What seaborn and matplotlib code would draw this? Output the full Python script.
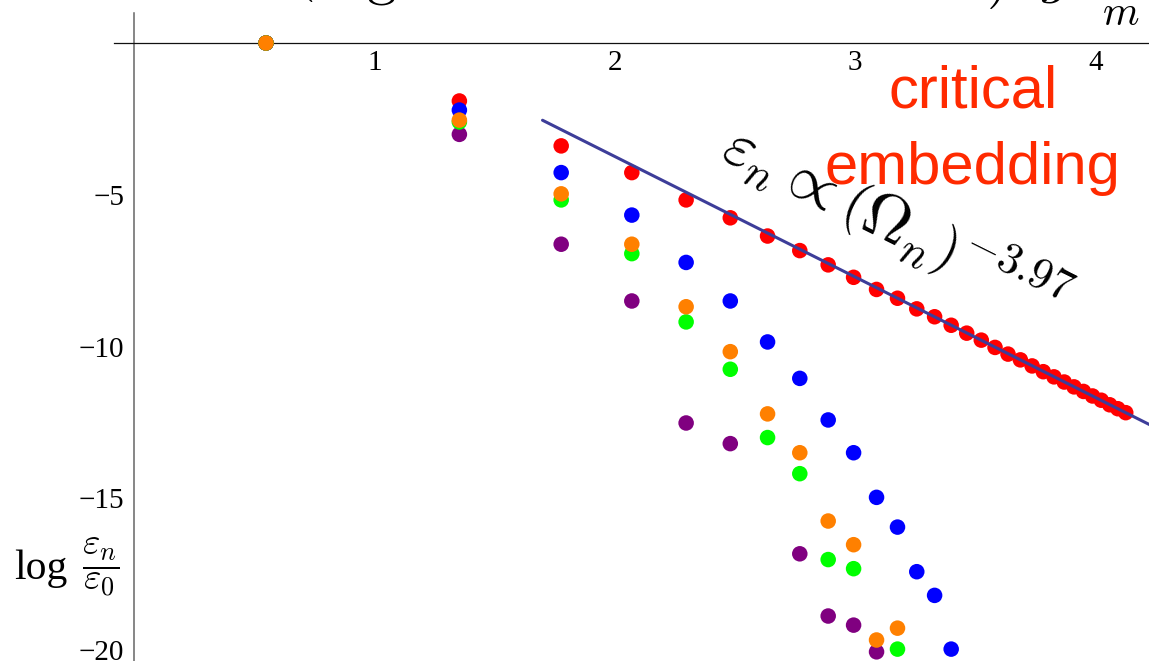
import matplotlib
matplotlib.use("Agg")
import matplotlib.pyplot as plt
import numpy as np
import pandas as pd
import seaborn as sns
from matplotlib.ticker import FixedLocator

# log of the mode frequencies Omega_m (m = 1 .. 31)
log_omega = [0.5493, 1.3540, 1.7777, 2.0716, 2.2976, 2.4814, 2.6365, 2.7706,
             2.8888, 2.9945, 3.0900, 3.1772, 3.2574, 3.3316, 3.4006, 3.4652,
             3.5259, 3.5831, 3.6372, 3.6886, 3.7374, 3.7839, 3.8284, 3.8710,
             3.9118, 3.9511, 3.9888, 4.0252, 4.0603, 4.0942, 4.1270]

# log(eps_n / eps_0) for each embedding
log_eps_critical = [0.0, -1.91, -3.39, -4.27, -5.17, -5.76, -6.36, -6.84,
                    -7.31, -7.72, -8.12, -8.41, -8.76, -9.02, -9.30, -9.56,
                    -9.79, -10.03, -10.25, -10.44, -10.64, -10.83, -11.00,
                    -11.17, -11.33, -11.48, -11.63, -11.77, -11.92, -12.05,
                    -12.18]
log_eps_blue = [0.0, -2.21, -4.27, -5.67, -7.23, -8.50, -9.85, -11.05,
                -12.42, -13.50, -14.97, -15.95, -17.42, -18.20, -19.97]
log_eps_orange = [0.0, -2.54, -4.97, -6.63, -8.69, -10.17, -12.22, -13.50,
                  -15.75, -16.53, -19.67, -19.28]
log_eps_green = [0.0, -2.60, -5.17, -6.94, -9.19, -10.75, -13.00, -14.19,
                 -17.02, -17.32, None, -19.97]
log_eps_purple = [0.0, -3.01, -6.63, -8.50, -12.52, -13.20, None, -16.83,
                  -18.88, -19.18, -20.06]

# power-law fit of the critical embedding: log eps = a + slope * log Omega
fit_slope = -3.97
fit_intercept = 4.204
fit_x = [1.70, 4.40]

x_major = [1, 2, 3, 4]
y_major = [-20, -15, -10, -5]

series = [("purple", log_eps_purple, "#800080"),
          ("critical", log_eps_critical, "#ff0000"),
          ("blue", log_eps_blue, "#0000ff"),
          ("green", log_eps_green, "#00ff00"),
          ("orange", log_eps_orange, "#ff8000")]

rows = []
for name, vals, _ in series:
    for xv, yv in zip(log_omega, vals):
        if yv is not None:
            rows.append({"log_omega": xv, "log_eps": yv, "embedding": name})
df = pd.DataFrame(rows)
palette = {name: col for name, _, col in series}

fit_df = pd.DataFrame({"x": fit_x,
                       "y": [fit_intercept + fit_slope * v for v in fit_x]})

sns.set_style("white")
plt.rcParams["font.family"] = ["Liberation Serif", "DejaVu Serif"]
plt.rcParams["mathtext.fontset"] = "cm"

W, H = 1149, 661
fig = plt.figure(figsize=(W / 100, H / 100), dpi=100)
ax = fig.add_axes([0, 0, 1, 1])

sns.scatterplot(data=df, x="log_omega", y="log_eps", hue="embedding",
                palette=palette, s=125, linewidth=0, legend=False, ax=ax,
                zorder=3)
sns.lineplot(data=fit_df, x="x", y="y", color="#3d3d99", linewidth=2.2,
             ax=ax, zorder=4)

ax.set_xlim(-0.5576, 4.2238)
ax.set_ylim(-20.362, 1.4168)
ax.set_xlabel("")
ax.set_ylabel("")

# axes crossing at the origin
for side in ("top", "right"):
    ax.spines[side].set_visible(False)
ax.spines["left"].set_position(("data", 0))
ax.spines["bottom"].set_position(("data", 0))
ax.spines["left"].set_bounds(-20.6, 1.0)
ax.spines["bottom"].set_bounds(-0.083, 4.3)
ax.spines["left"].set_color("#666666")
ax.spines["left"].set_linewidth(1.1)
ax.spines["bottom"].set_color("#111111")
ax.spines["bottom"].set_linewidth(0.9)
ax.spines["left"].set_zorder(1)
ax.spines["bottom"].set_zorder(1)

ax.xaxis.set_major_locator(FixedLocator(x_major))
ax.xaxis.set_minor_locator(FixedLocator(
    [round(0.2 * k, 1) for k in range(1, 22) if k % 5 != 0]))
ax.yaxis.set_major_locator(FixedLocator(y_major))
ax.yaxis.set_minor_locator(FixedLocator(
    [k for k in range(-20, 2) if k % 5 != 0]))
ax.set_xticklabels([str(v) for v in x_major])
ax.set_yticklabels(["\u2212" + str(-v) for v in y_major])

ax.tick_params(axis="both", which="both", direction="in", colors="#555555",
               width=0.8, labelcolor="black", labelsize=21)
ax.tick_params(axis="both", which="major", length=8)
ax.tick_params(axis="both", which="minor", length=5)
ax.tick_params(axis="x", which="major", pad=5)
ax.tick_params(axis="y", which="major", pad=7)

ax.text(3.17, -5.92, r"$\varepsilon_n \propto \left(\Omega_n\right)^{-3.97}$",
        rotation=-26.5, rotation_mode="anchor", ha="center", va="center",
        fontsize=46, color="black", zorder=5)

ax.text(3.49, -2.86, "critical\nembedding", ha="center", va="center",
        color="#ff2a00", fontsize=43, family="Liberation Sans",
        linespacing=1.5, zorder=5)

# y-axis label: log(eps_n / eps_0)
ax.text(-0.279, -17.67, "log", ha="right", va="baseline", fontsize=30,
        color="black")
ax.text(-0.058, -17.27, r"$\dfrac{\varepsilon_n}{\varepsilon_0}$",
        ha="right", va="center", fontsize=27, color="black")

# title line running off the top edge
fig.text(292 / W, 1 + 12 / H, r"$($", ha="left", va="baseline",
         fontsize=42, color="black")
fig.text(366 / W, 1 + 6 / H, r"$\mathrm{g}$", ha="left", va="baseline",
         fontsize=42, color="black")
fig.text(986 / W, 1 + 5 / H, r"$)$", ha="left", va="baseline",
         fontsize=42, color="black")
fig.text(1040 / W, 1 + 9 / H, r"$g$", ha="left", va="baseline",
         fontsize=42, color="black")
fig.text(1102 / W, 1 - 25 / H, r"$m$", ha="left", va="baseline",
         fontsize=30, color="black")

fig.savefig("out.png", dpi=100, facecolor="white")
